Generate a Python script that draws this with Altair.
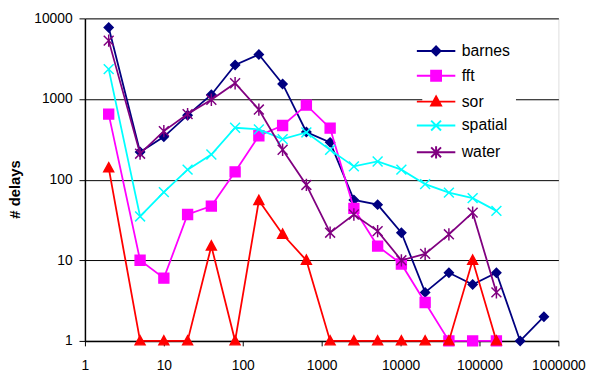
import altair as alt
import pandas as pd

# ---- data ----
x_values = [2, 5, 10, 20, 40, 80, 160, 320, 640, 1280, 2560, 5120, 10240,
            20480, 40960, 81920, 163840, 327680, 655360]
barnes  = [7700, 220, 340, 630, 1130, 2640, 3560, 1540, 390, 290, 56, 49, 22, 4, 7, 5, 7, 1, 2]
fft     = [650, 10, 6, 37, 47, 125, 350, 470, 840, 435, 44, 15, 9, 3, 1, 1, 1]
sor     = [140, 1, 1, 1, 15, 1, 55, 21, 10, 1, 1, 1, 1, 1, 1, 10, 1]
spatial = [2350, 35, 70, 133, 205, 440, 420, 318, 385, 234, 146, 168, 133, 88, 69, 59, 41]
water   = [5300, 210, 400, 650, 980, 1570, 740, 235, 86, 22, 37, 23, 10, 12, 21, 39, 4]

series_names = ["barnes", "fft", "sor", "spatial", "water"]
series_values = [barnes, fft, sor, spatial, water]
series_colors = ["#000080", "#FF00FF", "#FF0000", "#00FFFF", "#800080"]

x_ticks = [1, 10, 100, 1000, 10000, 100000, 1000000]
y_ticks = [1, 10, 100, 1000, 10000]

# marker shapes (unit square paths)
diamond = "M0,-0.9L0.9,0L0,0.9L-0.9,0Z"
square = "M-1,-1H1V1H-1Z"
triangle = "M0,-1.05L1,0.8H-1Z"
xmark = "M-1,-1L1,1M-1,1L1,-1"
aster = "M-1,-1L1,1M-1,1L1,-1M0,-1.25V1.25"
marker_paths = [diamond, square, triangle, xmark, aster]
L = 3.9
legend_paths = [f"M-{L},0H{L}" + p for p in marker_paths]

rows = []
for name, vals in zip(series_names, series_values):
    for xv, yv in zip(x_values, vals):
        rows.append({"x": xv, "y": yv, "series": name})
df = pd.DataFrame(rows)

FONT = "Liberation Sans"

xenc = alt.X("x:Q", scale=alt.Scale(type="log", domain=[1, 1000000], nice=False),
             axis=alt.Axis(values=x_ticks, format="d", grid=False, title=None,
                           labelFont=FONT, labelFontSize=14, labelColor="black",
                           tickColor="black", tickSize=5, labelPadding=13,
                           domainColor="black", domainWidth=1.5,
                           labelFlush=False, labelOverlap=False))
yenc = alt.Y("y:Q", scale=alt.Scale(type="log", domain=[1, 10000], nice=False),
             axis=alt.Axis(values=y_ticks, format="d", grid=True, gridColor="black",
                           gridWidth=1, title="# delays", titleFont=FONT,
                           titleFontSize=15, titleFontWeight="bold", titleColor="black",
                           titleX=-63, titleY=173, labelFont=FONT, labelFontSize=14,
                           labelColor="black", tickColor="black", tickSize=6,
                           labelPadding=7, domainColor="black", domainWidth=1.5,
                           labelFlush=False))

color_scale = alt.Scale(domain=series_names, range=series_colors)

series_layers = []
for name, col, path in zip(series_names, series_colors, marker_paths):
    base = alt.Chart(df).transform_filter(alt.datum.series == name)
    series_layers.append(
        base.mark_line(color=col, strokeWidth=1.8).encode(x=xenc, y=yenc, order=alt.Order("x:Q"))
    )
    series_layers.append(
        base.mark_point(shape=path, filled=True, fill=col, stroke=col, size=100, opacity=1,
                        strokeWidth=1.5).encode(x=xenc, y=yenc)
    )

leg = dict(orient="none", legendX=342, legendY=19, title=None)
legend_layer = alt.Chart(df).transform_filter("false").mark_point(
    filled=True, size=100, opacity=1, strokeWidth=2).encode(
    x=xenc, y=yenc,
    shape=alt.Shape("series:N", scale=alt.Scale(domain=series_names, range=legend_paths),
                    legend=alt.Legend(fillColor="white", padding=6, labelFont=FONT,
                                      labelFontSize=16, labelColor="black",
                                      symbolStrokeWidth=2, symbolSize=100,
                                      labelOffset=18, rowPadding=7.2,
                                      symbolOpacity=1, **leg)),
    fill=alt.Fill("series:N", scale=color_scale, legend=alt.Legend(**leg)),
    stroke=alt.Stroke("series:N", scale=color_scale, legend=alt.Legend(**leg)),
)

chart = alt.layer(*series_layers, legend_layer).properties(
    width=480, height=327,
    padding={"left": 78, "top": 8, "right": 29, "bottom": 31},
    autosize=alt.AutoSizeParams(type="none"),
).configure_view(stroke="#808080", strokeWidth=2).configure(background="white")

chart.save("out.html", embed_options={"renderer": "svg", "actions": False})
